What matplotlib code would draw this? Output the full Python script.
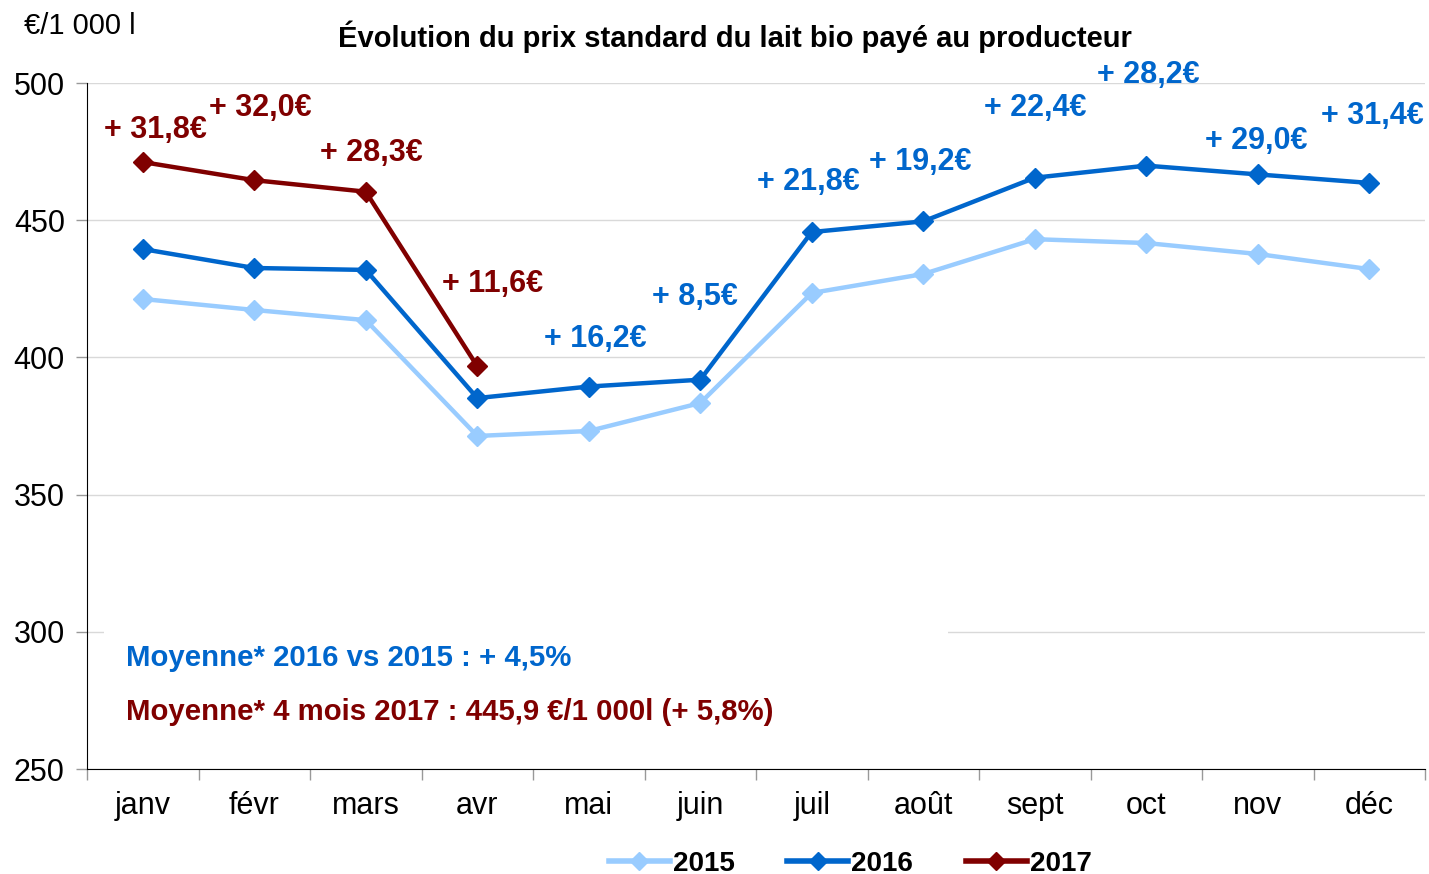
import matplotlib
matplotlib.use("Agg")
import matplotlib.pyplot as plt
from matplotlib.lines import Line2D

plt.rcParams['font.family'] = ['Liberation Sans', 'DejaVu Sans']

months = ["janv", "févr", "mars", "avr", "mai", "juin", "juil", "août", "sept", "oct", "nov", "déc"]
prix_2015 = [421.3, 417.3, 413.6, 371.4, 373.2, 383.4, 423.5, 430.4, 443.1, 441.7, 437.7, 432.2]
prix_2016 = [439.5, 432.6, 431.9, 385.2, 389.4, 391.9, 445.7, 449.6, 465.5, 469.9, 466.7, 463.6]
prix_2017 = [471.2, 464.6, 460.4, 396.8]
labels_2017 = ["+ 31,8€", "+ 32,0€", "+ 28,3€", "+ 11,6€"]
labels_2016 = ["+ 16,2€", "+ 8,5€", "+ 21,8€", "+ 19,2€", "+ 22,4€", "+ 28,2€", "+ 29,0€", "+ 31,4€"]
yticks = [250, 300, 350, 400, 450, 500]

c15 = "#99CCFF"
c16 = "#0066CC"
c17 = "#800000"

fig = plt.figure(figsize=(14.29, 8.74), dpi=100)
ax = fig.add_axes([0.0609, 0.120, 0.9363, 0.785])

x = list(range(len(months)))
ax.plot(x, prix_2015, color=c15, lw=3.2, marker="D", ms=10, zorder=3)
ax.plot(x, prix_2016, color=c16, lw=3.2, marker="D", ms=10, zorder=4)
ax.plot(x[:len(prix_2017)], prix_2017, color=c17, lw=3.2, marker="D", ms=10, zorder=5)

ax.set_xlim(-0.5, 11.5)
ax.set_ylim(250, 500)
ax.set_yticks(yticks)
ax.set_yticklabels([str(v) for v in yticks], fontsize=22)
ax.set_xticks(x)
ax.set_xticklabels(months, fontsize=22)
ax.tick_params(axis='x', length=0, pad=16)
ax.set_xticks([i - 0.5 for i in range(13)], minor=True)
ax.tick_params(axis='x', which='minor', length=8, color="#999999", width=1)
ax.tick_params(axis='y', length=8, color="#999999", width=1, pad=8)
ax.yaxis.grid(True, color="#d9d9d9", lw=1)
ax.set_axisbelow(True)
for s in ["top", "right"]:
    ax.spines[s].set_visible(False)
ax.spines["left"].set_color("black")
ax.spines["bottom"].set_color("black")

# labels 2017 vs 2016
pos17 = [(0.11, 483.0), (1.05, 491.0), (2.05, 474.6), (3.14, 426.9)]
for (px, py), t in zip(pos17, labels_2017):
    ax.text(px, py, t, color=c17, fontsize=22, fontweight="bold", ha="center", va="center", zorder=6)
pos16 = [(4.06, 406.8), (4.95, 422.1), (5.97, 464.0), (6.97, 471.3), (8.0, 491.0), (9.02, 503.0), (9.99, 479.0), (11.03, 488.1)]
for (px, py), t in zip(pos16, labels_2016):
    ax.text(px, py, t, color=c16, fontsize=22, fontweight="bold", ha="center", va="center", zorder=6, clip_on=False)

ax.text(-0.15, 290.6, "Moyenne* 2016 vs 2015 : + 4,5%", color=c16, fontsize=21.2, fontweight="bold",
        ha="left", va="center", zorder=2)
ax.text(-0.15, 270.9, "Moyenne* 4 mois 2017 : 445,9 €/1 000l (+ 5,8%)", color=c17, fontsize=21.2, fontweight="bold",
        ha="left", va="center", zorder=2)
# white box hiding part of the 300 gridline behind the text block
ax.fill_between([-0.35, 7.22], 298.5, 301.5, color="white", zorder=1, lw=0)

fig.text(0.514, 0.958, "Évolution du prix standard du lait bio payé au producteur", fontsize=21,
         fontweight="bold", ha="center", va="center")
fig.text(0.017, 0.970, "€/1 000 l", fontsize=21, ha="left", va="center")

handles = [Line2D([], [], color=c, lw=4, marker="D", ms=9) for c in (c15, c16, c17)]
fig.legend(handles, ["2015", "2016", "2017"], loc="center", bbox_to_anchor=(0.595, 0.012),
           ncol=3, frameon=False, prop={"size": 20, "weight": "bold"}, handlelength=2.2,
           columnspacing=1.9, handletextpad=0.1)

fig.savefig("out.png", dpi=100)
